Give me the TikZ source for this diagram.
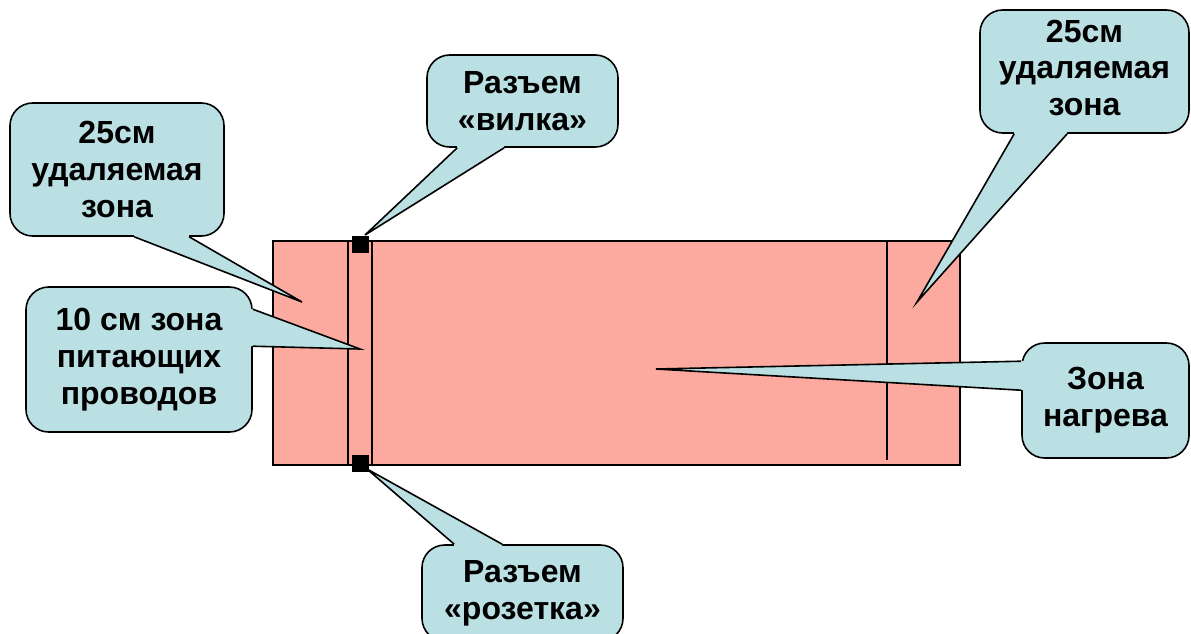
\documentclass[tikz,border=0pt]{standalone}
\usepackage{fontspec}
\setmainfont{Liberation Sans}
\usetikzlibrary{calc}
\definecolor{calloutblue}{RGB}{187,224,227}
\definecolor{heatpink}{RGB}{252,169,159}
\tikzset{
  callout/.style={draw=black,line width=1.2pt,fill=calloutblue,rounded corners=17pt,
    align=center,inner sep=0pt,font=\bfseries\fontsize{24}{27.6}\selectfont},
  tipline/.style={draw=black,line width=1.2pt,line join=miter},
  zone/.style={line width=1pt},
  plug/.style={fill=black,minimum size=12.75pt,inner sep=0pt},
}
\newcommand{\calloutptr}[4]{%
  \fill[calloutblue] (#1) -- (#2) -- (#3) -- ($(#3)+(#4)$) -- ($(#1)+(#4)$) -- cycle;
  \draw[tipline] (#1) -- (#2) -- (#3);}
\newcommand{\shiftedlines}[2]{\raisebox{#1}{\begin{tabular}{@{}c@{}}#2\end{tabular}}}

\begin{document}
\begin{tikzpicture}[x=0.75pt,y=-0.75pt]
  \useasboundingbox (0,0) rectangle (1191,633);

  \draw[zone,fill=heatpink] (273,241) rectangle (960,465);
  \draw[zone] (348,241) -- (348,465);
  \draw[zone] (372,241) -- (372,465);
  \draw[zone] (887,241) -- (887,460);

  \coordinate (leftcut) at (302,302);
  \coordinate (wires) at (360,349);
  \coordinate (vilkatip) at (365,235);
  \coordinate (rozetkatip) at (367,469);
  \coordinate (rightcut) at (917,302);
  \coordinate (heat) at (656,369);

  \node[callout,minimum width=160.5pt,minimum height=99.75pt] (cutl) at (117,169.5) {25см\\удаляемая\\зона};
  \node[callout,minimum width=169.5pt,minimum height=108.75pt] (wirezone) at (139,359.5) {10 см зона\\питающих\\проводов};
  \node[callout,minimum width=143.25pt,minimum height=69pt] (vilka) at (522.5,101) {Разъем\\«вилка»};
  \node[callout,minimum width=150.75pt,minimum height=72pt] (rozetka) at (522.5,593) {Разъем\\«розетка»};
  \node[callout,minimum width=156.75pt,minimum height=92.25pt] (cutr) at (1084.5,71.5) {\shiftedlines{-5pt}{25см\\удаляемая\\зона}};
  \node[callout,minimum width=125.25pt,minimum height=86.25pt] (heatzone) at (1105.5,400.5) {\shiftedlines{5pt}{Зона\\нагрева}};

  \calloutptr{$(cutl.south west)+(125,0)$}{leftcut}{$(cutl.south west)+(180,0)$}{0,-5}
  \calloutptr{$(wirezone.north east)+(0,23)$}{wires}{$(wirezone.north east)+(0,60)$}{-5,0}
  \calloutptr{$(vilka.south west)+(31,0)$}{vilkatip}{$(vilka.south west)+(78,0)$}{0,-5}
  \calloutptr{$(rozetka.north west)+(33,0)$}{rozetkatip}{$(rozetka.north west)+(81,0)$}{0,5}
  \calloutptr{$(cutr.south west)+(35,0)$}{rightcut}{$(cutr.south west)+(88,0)$}{0,-5}
  \calloutptr{$(heatzone.north west)+(0,19)$}{heat}{$(heatzone.north west)+(0,48)$}{5,0}

  \node[plug] (plugtop) at (360,244) {};
  \node[plug] (plugbottom) at (360,463) {};
\end{tikzpicture}
\end{document}
